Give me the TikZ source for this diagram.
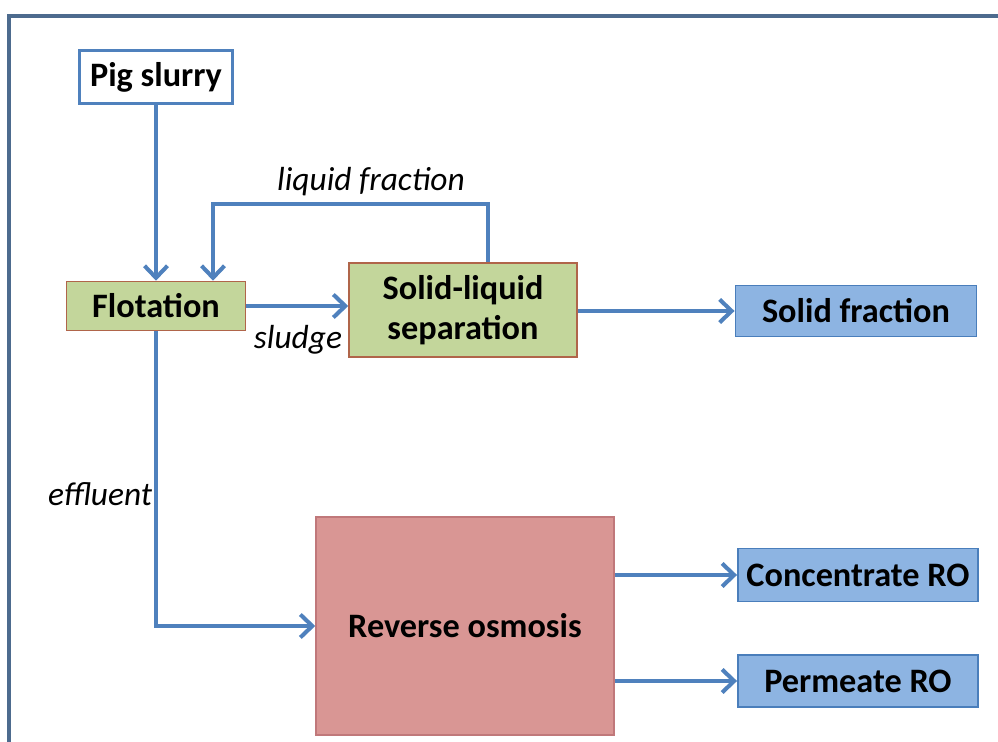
\documentclass[tikz,border=0pt]{standalone}
\usepackage{fontspec}
\setmainfont{Carlito}
\usepackage{xcolor}
\definecolor{flowblue}{HTML}{4F81BD}
\definecolor{olivefill}{HTML}{C3D69B}
\definecolor{brownline}{HTML}{B0654A}
\definecolor{rosefill}{HTML}{D99694}
\definecolor{roseline}{HTML}{C0787A}
\definecolor{skyfill}{HTML}{8DB4E2}
\definecolor{skyline}{HTML}{4A7EBB}
\definecolor{framecol}{HTML}{4D6B8E}
\usetikzlibrary{arrows.meta,positioning}
\tikzset{
    x=0.02cm,y=-0.02cm,
    flow/.style={draw=flowblue, line width=2.3pt, -{Straight Barb[length=2.4mm,width=4.6mm,line width=2.3pt]}},
    box/.style={rectangle, inner sep=0pt, align=center, font=\fontsize{19.5}{23}\selectfont\bfseries},
    source/.style={box, draw=flowblue, line width=1.4pt, fill=white},
    unit/.style={box, draw=brownline, line width=0.9pt, fill=olivefill},
    osmo/.style={box, draw=roseline, line width=0.9pt, fill=rosefill},
    product/.style={box, draw=skyline, line width=1.1pt, fill=skyfill},
    lab/.style={font=\fontsize{19}{22}\selectfont\itshape, inner sep=0pt}
}
\begin{document}
\begin{tikzpicture}
    \useasboundingbox (0,0) rectangle (998,742);
    \draw[framecol, line width=1.8pt] (9,742) -- (9,16) -- (998,16);

    \node[source, minimum width=3.06cm, minimum height=1.06cm] (slurry) at (156,77) {Pig slurry};
    \node[unit, minimum width=3.58cm, minimum height=0.98cm] (flot) at (156,306) {Flotation};
    \node[unit, minimum width=4.56cm, minimum height=1.88cm] (sep) at (463,310) {Solid-liquid\\separation};
    \node[product, minimum width=4.82cm, minimum height=1.02cm] (solid) at (856,311) {Solid fraction};
    \node[osmo, minimum width=5.96cm, minimum height=4.36cm] (ro) at (465,626) {Reverse osmosis};
    \node[product, minimum width=4.8cm, minimum height=1.06cm] (conc) at (858,575) {Concentrate RO};
    \node[product, minimum width=4.8cm, minimum height=1.04cm] (perm) at (858,681) {Permeate RO};

    \coordinate (back) at (213,204);

    \draw[flow] (slurry) -- (flot);
    \draw[flow] ([xshift=0.5cm]sep.north) |- (back) -- (back |- flot.north);
    \draw[flow] (flot.east) -- (flot.east -| sep.west);
    \draw[flow] (sep.east |- solid.west) -- (solid.west);
    \draw[flow] (flot.south) |- (ro.west);
    \draw[flow] (ro.east |- conc.west) -- (conc.west);
    \draw[flow] (ro.east |- perm.west) -- (perm.west);

    \node[lab] (liq) at (371,182) {liquid fraction};
    \node[lab] (sludge) at (298,340) {sludge};
    \node[lab] (eff) at (100,494) {effluent};
\end{tikzpicture}
\end{document}
